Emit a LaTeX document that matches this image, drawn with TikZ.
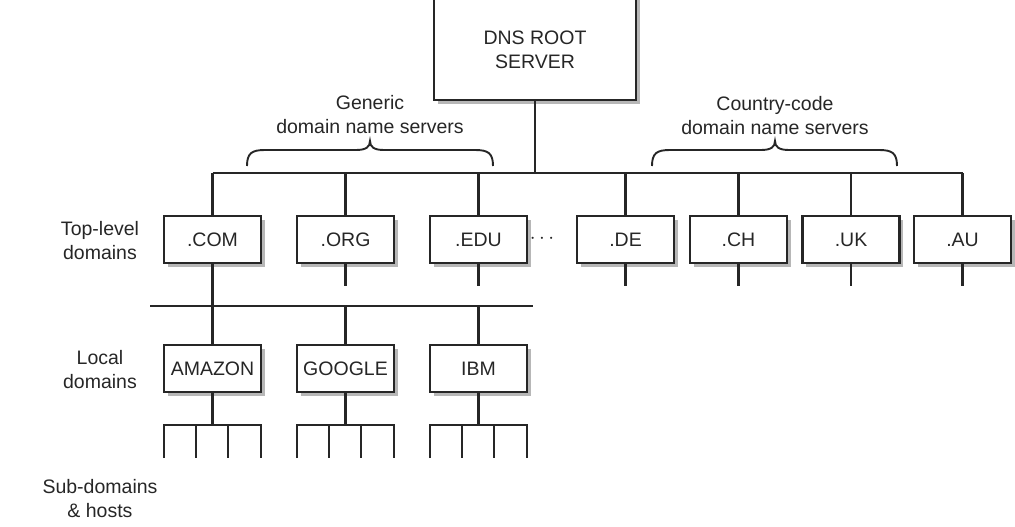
\documentclass[tikz,border=0pt]{standalone}
\usepackage{fontspec}
\setmainfont{Liberation Sans}
\usetikzlibrary{shadows}
\begin{document}
\begin{tikzpicture}[x=1pt,y=-1pt,
  ln/.style={line width=2.2pt, draw=black!85},
  box/.style={draw=black!85, line width=2.2pt, fill=white, minimum width=97pt, minimum height=47pt, inner sep=0pt,
    font=\fontsize{19.5}{24}\selectfont, text=black!85,
    drop shadow={shadow xshift=3.5pt, shadow yshift=-3.5pt, fill=black!40, opacity=0.7}},
  lab/.style={align=center, font=\fontsize{19.5}{24}\selectfont, text=black!85, inner sep=0pt},
  brc/.style={line width=1.9pt, draw=black!85}
]
\useasboundingbox (0,0) rectangle (1015,527);

% root
\node[box, minimum width=202pt, minimum height=125pt] (root) at (535,37.5) {};
\node[lab] (rootlabel) at (535,50) {DNS ROOT\\SERVER};

% bus
\coordinate (busL) at (212.5,173);
\coordinate (busR) at (962.5,173);
\draw[ln] (root.south) -- (root.south |- busL);
\draw[ln] (busL) -- (busR);

% top-level domains
\node[box] (com) at (212.5,239.5) {.COM};
\node[box] (org) at (345.5,239.5) {.ORG};
\node[box] (edu) at (478.5,239.5) {.EDU};
\node[box] (de)  at (625.5,239.5) {.DE};
\node[box] (ch)  at (738.5,239.5) {.CH};
\node[box] (uk)  at (851,239.5) {.UK};
\node[box] (au)  at (962.5,239.5) {.AU};
\node[lab, font=\fontsize{21}{24}\selectfont] (dots) at (542,239) {$\cdots$};

\foreach \n in {com,org,edu,de,ch,uk,au}{
  \draw[ln] (\n.north |- busL) -- (\n.north);
}
\foreach \n in {org,edu,de,ch,uk,au}{
  \draw[ln] (\n.south) -- ++(0,22);
}

% local domains line
\coordinate (hlL) at (150,306);
\coordinate (hlR) at (533,306);
\draw[ln] (hlL) -- (hlR);

\node[box] (amazon) at (212.5,368.5) {AMAZON};
\node[box] (google) at (345.5,368.5) {GOOGLE};
\node[box] (ibm)    at (478.5,368.5) {IBM};

\draw[ln] (com.south) -- (amazon.north);
\draw[ln] (google.north |- hlL) -- (google.north);
\draw[ln] (ibm.north |- hlL) -- (ibm.north);

% sub-domain combs
\foreach \n in {amazon,google,ibm}{
  \draw[ln] (\n.south) -- ++(0,32) coordinate (\n-c);
  \draw[ln, line join=miter] ([xshift=-48.5pt,yshift=-33pt]\n-c) -- ([xshift=-48.5pt]\n-c)
     -- ([xshift=48.5pt]\n-c) -- ([xshift=48.5pt,yshift=-33pt]\n-c);
  \draw[ln] ([xshift=-16.5pt]\n-c) -- ++(0,33);
  \draw[ln] ([xshift=15.5pt]\n-c) -- ++(0,33);
}

% left labels
\node[lab] (tl) at (100,241) {Top-level\\domains};
\node[lab] (ld) at (100,370) {Local\\domains};
\node[lab] (sd) at (100,499) {Sub-domains\\\& hosts};

% braces
\node[lab] (gen) at (370,115) {Generic\\domain name servers};
\node[lab] (cc) at (775,116) {Country-code\\domain name servers};
\draw[brc] (247,166) .. controls (247,153) and (252,150) .. (265,150) -- (356,150)
  .. controls (366,150) and (370,147) .. (370,141)
  .. controls (370,147) and (374,150) .. (384,150) -- (475,150)
  .. controls (488,150) and (493,153) .. (493,166);
\draw[brc] (652,166) .. controls (652,153) and (657,150) .. (670,150) -- (761,150)
  .. controls (771,150) and (775,147) .. (775,141)
  .. controls (775,147) and (779,150) .. (789,150) -- (879,150)
  .. controls (892,150) and (897,153) .. (897,166);
\end{tikzpicture}
\end{document}
